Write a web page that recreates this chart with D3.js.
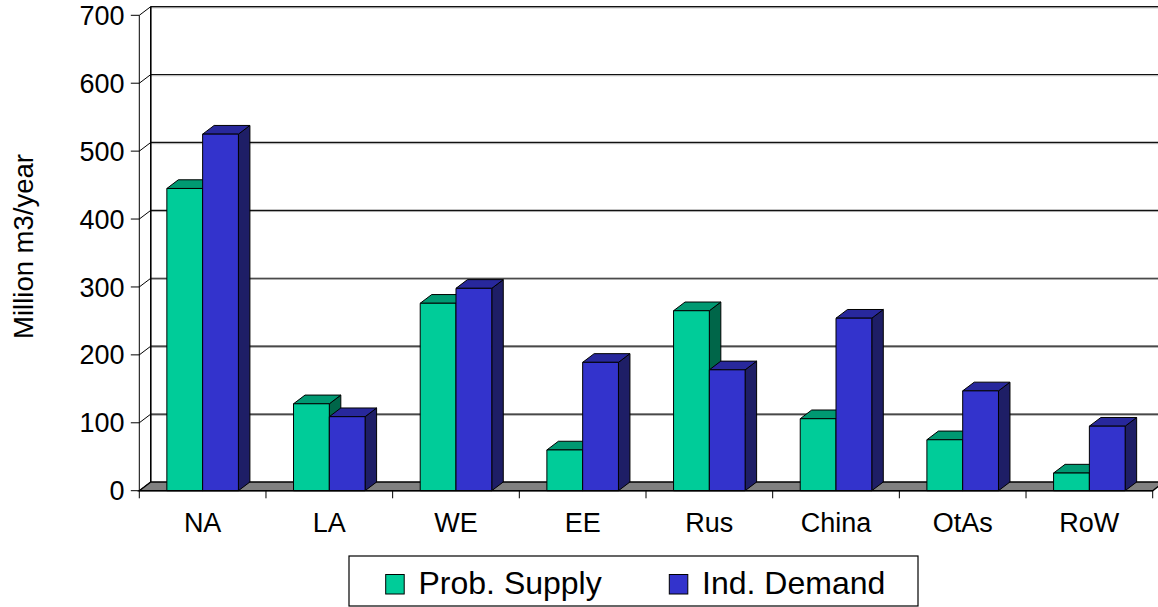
<!DOCTYPE html>
<html>
<head>
<meta charset="utf-8">
<script src="https://cdn.jsdelivr.net/npm/d3@7/dist/d3.min.js"></script>
<style>
  html, body { margin: 0; padding: 0; background: #fff; }
  svg { display: block; font-family: "Liberation Sans", Arial, sans-serif; }
</style>
</head>
<body>
<svg id="chart" width="1158" height="607"></svg>
<script>
// Regional supply and demand, million m3 per year
const categories = ["NA", "LA", "WE", "EE", "Rus", "China", "OtAs", "RoW"];
const seriesNames = ["Prob. Supply", "Ind. Demand"];
const probSupply = [445, 128, 276, 60, 265, 106, 75, 26];
const indDemand = [525, 109, 298, 189, 178, 254, 147, 95];
const yTicks = [0, 100, 200, 300, 400, 500, 600, 700];
const yTitle = "Million m3/year";

(function () {
  const seriesValues = [probSupply, indDemand];
  const palette = {
    "Prob. Supply": { face: "#00CC99", top: "#009972", side: "#006649" },
    "Ind. Demand": { face: "#3333CC", top: "#28289C", side: "#1E1E66" }
  };

  const svg = d3.select("#chart");

  // plot frame: front plane and 3-D depth offset
  const plotLeft = 139.3, plotRight = 1152.7, plotBottom = 490.7, plotTop = 15.3;
  const dx = 11.5, dy = -8.7;

  const y = d3.scaleLinear().domain([0, 700]).range([plotBottom, plotTop]);
  const x0 = d3.scaleBand().domain(categories).range([plotLeft, plotRight]);
  const x1 = d3.scaleBand().domain(seriesNames).range([0, x0.bandwidth()]).paddingOuter(0.77);

  // back wall gridlines (black line with a soft grey shadow)
  const grid = svg.append("g");
  yTicks.forEach(t => {
    const gy = y(t) + dy;
    if (t > 0) {
      grid.append("line").attr("x1", plotLeft + dx).attr("x2", 1158)
        .attr("y1", gy + 1.2).attr("y2", gy + 1.2)
        .attr("stroke", "#aaa").attr("stroke-width", 1);
      grid.append("line").attr("x1", plotLeft + dx).attr("x2", 1158)
        .attr("y1", gy).attr("y2", gy)
        .attr("stroke", "#111").attr("stroke-width", 1.2);
    }
    // side wall connectors from the front axis to the back wall
    grid.append("line").attr("x1", plotLeft).attr("y1", y(t))
      .attr("x2", plotLeft + dx).attr("y2", gy)
      .attr("stroke", "#000").attr("stroke-width", 1);
  });
  // back wall left edge
  grid.append("line").attr("x1", plotLeft + dx).attr("x2", plotLeft + dx)
    .attr("y1", y(700) + dy).attr("y2", y(0) + dy)
    .attr("stroke", "#000").attr("stroke-width", 1.6);

  // floor
  svg.append("path")
    .attr("d", `M${plotLeft},${plotBottom} L${plotRight},${plotBottom} L${plotRight + dx},${plotBottom + dy} L${plotLeft + dx},${plotBottom + dy} Z`)
    .attr("fill", "#808080").attr("stroke", "#000").attr("stroke-width", 1.4);

  // 3-D columns: front face, top and right side
  const bars = svg.append("g");
  categories.forEach((cat, i) => {
    seriesNames.forEach((s, k) => {
      const v = seriesValues[k][i];
      const bx = x0(cat) + x1(s);
      const bw = x1.bandwidth();
      const by = y(v);
      const c = palette[s];
      const g = bars.append("g").attr("stroke", "#000").attr("stroke-width", 1).attr("stroke-linejoin", "round");
      g.append("path")
        .attr("d", `M${bx + bw},${by} L${bx + bw + dx},${by + dy} L${bx + bw + dx},${plotBottom + dy} L${bx + bw},${plotBottom} Z`)
        .attr("fill", c.side);
      g.append("path")
        .attr("d", `M${bx},${by} L${bx + dx},${by + dy} L${bx + bw + dx},${by + dy} L${bx + bw},${by} Z`)
        .attr("fill", c.top);
      g.append("rect").attr("x", bx).attr("y", by).attr("width", bw).attr("height", plotBottom - by)
        .attr("fill", c.face);
    });
  });

  // front value axis
  const yAxisG = svg.append("g");
  yAxisG.append("line").attr("x1", plotLeft).attr("x2", plotLeft).attr("y1", plotTop).attr("y2", plotBottom)
    .attr("stroke", "#000").attr("stroke-width", 1);
  yTicks.forEach(t => {
    yAxisG.append("line").attr("x1", plotLeft - 8.5).attr("x2", plotLeft).attr("y1", y(t)).attr("y2", y(t))
      .attr("stroke", "#000").attr("stroke-width", 1);
    yAxisG.append("text").attr("x", 124.5).attr("y", y(t) + 9.6)
      .attr("text-anchor", "end").attr("font-size", 27).attr("fill", "#000").text(t);
  });

  // category axis
  const xAxisG = svg.append("g");
  xAxisG.append("line").attr("x1", plotLeft).attr("x2", plotRight).attr("y1", plotBottom).attr("y2", plotBottom)
    .attr("stroke", "#000").attr("stroke-width", 1.2);
  const boundaries = categories.map(c => x0(c)).concat([x0(categories[categories.length - 1]) + x0.bandwidth()]);
  boundaries.forEach(bx => {
    xAxisG.append("line").attr("x1", bx).attr("x2", bx).attr("y1", plotBottom).attr("y2", plotBottom + 7.6)
      .attr("stroke", "#000").attr("stroke-width", 1);
  });
  categories.forEach(c => {
    xAxisG.append("text").attr("x", x0(c) + x0.bandwidth() / 2).attr("y", 532)
      .attr("text-anchor", "middle").attr("font-size", 27).attr("fill", "#000").text(c);
  });

  // value axis title
  svg.append("text").attr("transform", "translate(33,246.5) rotate(-90)")
    .attr("text-anchor", "middle").attr("font-size", 27.5).attr("fill", "#000").text(yTitle);

  // legend
  const legend = svg.append("g");
  legend.append("rect").attr("x", 349).attr("y", 556).attr("width", 569).attr("height", 50)
    .attr("fill", "#fff").attr("stroke", "#000").attr("stroke-width", 1.2);
  const legendX = [385.7, 669.3];
  seriesNames.forEach((s, k) => {
    legend.append("rect").attr("x", legendX[k]).attr("y", 574.5).attr("width", 18.5).attr("height", 19.5)
      .attr("fill", palette[s].face).attr("stroke", "#000").attr("stroke-width", 1);
    legend.append("text").attr("x", legendX[k] + 32.8).attr("y", 594.3)
      .attr("font-size", 32).attr("fill", "#000").text(s);
  });
})();
</script>
</body>
</html>
